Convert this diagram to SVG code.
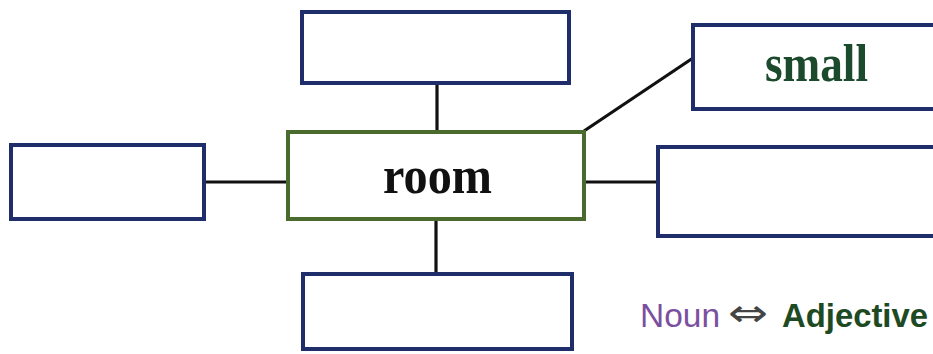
<svg xmlns="http://www.w3.org/2000/svg" width="933" height="354" viewBox="0 0 933 354">
<style>
.blue{fill:#ffffff;stroke:#1f2d6b;stroke-width:4}
.green{fill:#ffffff;stroke:#4b6a2e;stroke-width:4}
.conn{stroke:#111111;stroke-width:3.2;fill:none}
.lbl{font-family:"Liberation Serif","Times New Roman",serif;font-weight:bold;font-size:52px;text-anchor:middle}
</style>
<rect width="933" height="354" fill="#ffffff"/>
<g id="connectors">
<line class="conn" x1="437" y1="83" x2="437" y2="132"/>
<line class="conn" x1="436" y1="219" x2="436" y2="274"/>
<line class="conn" x1="204" y1="182" x2="288" y2="182"/>
<line class="conn" x1="584" y1="182" x2="658" y2="182"/>
<line class="conn" x1="584" y1="131" x2="693" y2="58"/>
</g>
<g id="node-room">
<rect class="green" x="288" y="132" width="296" height="87"/>
<text class="lbl" x="437.5" y="193" fill="#111111" textLength="109" lengthAdjust="spacingAndGlyphs">room</text>
</g>
<g id="node-top">
<rect class="blue" x="302" y="12" width="267" height="71"/>
</g>
<g id="node-bottom">
<rect class="blue" x="303" y="274" width="269" height="75"/>
</g>
<g id="node-left">
<rect class="blue" x="11" y="145" width="193" height="74"/>
</g>
<g id="node-right">
<rect class="blue" x="658" y="147" width="290" height="89"/>
</g>
<g id="node-small">
<rect class="blue" x="693" y="25" width="255" height="84"/>
<text class="lbl" x="816.5" y="81" fill="#1c4a2c" textLength="103" lengthAdjust="spacingAndGlyphs">small</text>
</g>
<g id="legend">
<text x="640" y="327" font-family="Liberation Sans, Arial, sans-serif" font-size="34" fill="#7b4fa0" textLength="80" lengthAdjust="spacingAndGlyphs">Noun</text>
<text x="728" y="326" font-family="DejaVu Sans, sans-serif" font-size="38" fill="#444444" textLength="40" lengthAdjust="spacingAndGlyphs">⇔</text>
<text x="782" y="327" font-family="Liberation Sans, Arial, sans-serif" font-weight="bold" font-size="34" fill="#1e4a23" textLength="146" lengthAdjust="spacingAndGlyphs">Adjective</text>
</g>
</svg>
